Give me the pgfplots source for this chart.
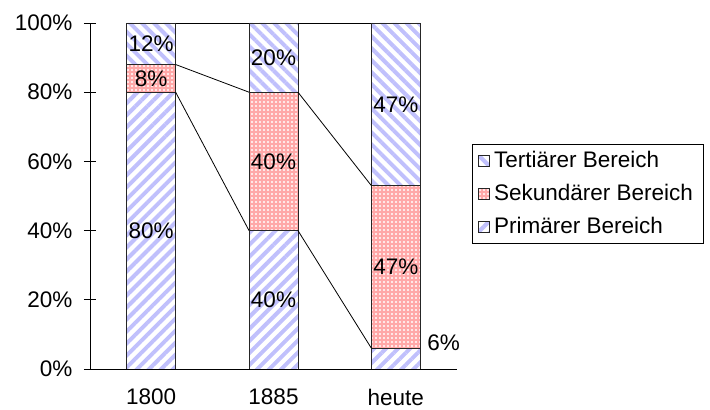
\documentclass[border=0pt]{standalone}
\usepackage{pgfplots}
\pgfplotsset{compat=1.18}
\usepackage{fontspec}
\setmainfont{Liberation Sans}
\usetikzlibrary{patterns.meta}
\definecolor{stripeblue}{RGB}{192,192,252}
\definecolor{pinkbase}{RGB}{255,168,168}
\begin{document}
\begin{tikzpicture}
\fontsize{22.5bp}{26bp}\selectfont
\useasboundingbox (0,0) rectangle (710bp,410bp);
\pgfplotsset{
  common/.style={
    scale only axis, width=367bp, height=346bp,
    at={(90bp,41bp)}, anchor=south west,
    xmin=-0.5, xmax=2.5, ymin=0, ymax=100,
  },
  primstyle/.style={draw=black!85, line width=0.9bp, pattern={Lines[angle=45,distance=8.5bp,line width=4bp]}, pattern color=stripeblue},
  sekstyle/.style={draw=black!85, line width=0.9bp, preaction={fill=pinkbase}, pattern={Dots[distance=4bp,radius=1.2bp]}, pattern color=white},
  tertstyle/.style={draw=black!85, line width=0.9bp, pattern={Lines[angle=-45,distance=8.5bp,line width=4bp]}, pattern color=stripeblue},
}
\begin{axis}[common,
  ybar stacked, bar width=0.4,
  axis x line=bottom, axis y line=left,
  axis line style={-, line width=0.9bp},
  every tick/.style={black, line width=0.9bp},
  tick align=center, major tick length=12bp,
  ytick={0,20,40,60,80,100},
  yticklabel={\pgfmathprintnumber{\tick}\%},
  /pgf/number format/assume math mode=true,
  yticklabel style={font=\fontsize{22.5bp}{26bp}\selectfont, xshift=-4bp},
  xtick={0,1,2}, xticklabels={1800,1885,heute},
  xtick style={draw=none},
  xticklabel style={font=\fontsize{22.5bp}{26bp}\selectfont, yshift=-6bp},
  extra x ticks={-0.5,0.5,1.5,2.5}, extra x tick labels={},
  extra x tick style={tick style={black, line width=0.9bp, draw=black}},
  reverse legend,
  legend style={at={(1,0.506)}, anchor=west, xshift=15bp, draw=black, line width=0.9bp,
    font=\fontsize{22.5bp}{26bp}\selectfont, row sep=9bp, inner xsep=6bp, inner ysep=5bp,
    nodes={inner xsep=4bp}},
  legend cell align=left,
  legend image code/.code={\draw[#1, line width=0.7bp] (0bp,-5.5bp) rectangle (11bp,5.5bp);},
]
\addplot[primstyle] coordinates {(0,80) (1,40) (2,6)};
\addplot[sekstyle] coordinates {(0,8) (1,40) (2,47)};
\addplot[tertstyle] coordinates {(0,12) (1,20) (2,47)};
\legend{Primärer Bereich, Sekundärer Bereich, Tertiärer Bereich}
\end{axis}
\begin{axis}[common, hide axis, clip=false]
\addplot[black, line width=0.8bp] coordinates {(0.2,100) (0.8,100)};
\addplot[black, line width=0.8bp] coordinates {(0.2,88) (0.8,80)};
\addplot[black, line width=0.8bp] coordinates {(0.2,80) (0.8,40)};
\addplot[black, line width=0.8bp] coordinates {(1.2,100) (1.8,100)};
\addplot[black, line width=0.8bp] coordinates {(1.2,80) (1.8,53)};
\addplot[black, line width=0.8bp] coordinates {(1.2,40) (1.8,6)};
\addplot[only marks, mark=none, nodes near coords, point meta=explicit symbolic,
  every node near coord/.style={anchor=center, font=\fontsize{22.5bp}{26bp}\selectfont, inner sep=0pt}]
  coordinates {(0,40)[80\%] (0,84)[8\%] (0,94)[12\%]
               (1,20)[40\%] (1,60)[40\%] (1,90)[20\%]
               (2,29.5)[47\%] (2,76.5)[47\%] (2.39,7.5)[6\%]};
\end{axis}
\end{tikzpicture}
\end{document}
